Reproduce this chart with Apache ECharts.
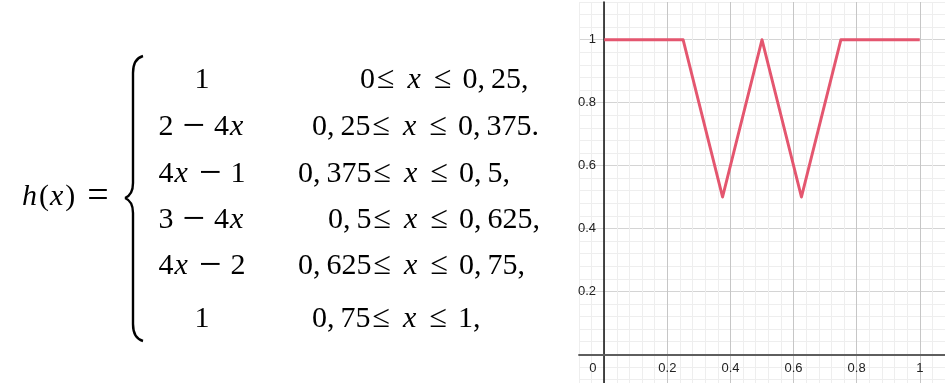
<!DOCTYPE html>
<html><head><meta charset="utf-8">
<script src="https://cdn.jsdelivr.net/npm/echarts@6/dist/echarts.min.js"></script>
<style>html,body{margin:0;padding:0;background:#fff}#c{width:945px;height:383px}</style>
</head><body><div id="c"></div>
<script>
// ---- data ----
const xValues = [0, 0.25, 0.375, 0.5, 0.625, 0.75, 1];
const hValues = [1, 1, 0.5, 1, 0.5, 1, 1];
const xTickLabels = ['0', '0.2', '0.4', '0.6', '0.8', '1'];
const yTickLabels = ['0.2', '0.4', '0.6', '0.8', '1'];
const pieceExprs = ['1', '2 − 4x', '4x − 1', '3 − 4x', '4x − 2', '1'];
const pieceLower = ['0', '0,25', '0,375', '0,5', '0,625', '0,75'];
const pieceUpper = ['0,25,', '0,375.', '0,5,', '0,625,', '0,75,', '1,'];

// ---- layout / style ----
const FAM = '"Liberation Serif"';
const F = (s, it) => (it ? 'italic ' : '') + s + 'px ' + FAM;
const rowY = [80, 127, 174, 220, 266, 319];
const condX = [360, 312, 298, 328, 298, 312];
const MINOR = '#eeeeee';

function richOf(s) {
  let out = '';
  for (const ch of s) {
    if (ch === 'x' || ch === 'h') out += '{i|' + ch + '}';
    else if (ch === '−') out += '{m|−}';
    else if (ch === '=') out += '{e|=}';
    else if (ch === '≤') out += '{L|≤}';
    else if (ch === ' ') continue;
    else if (ch === ',') out += '{c|,}';
    else out += '{n|' + ch + '}';
  }
  return out;
}
const rich = {
  n: { font: F(30), fill: '#000' },
  c: { font: F(30), fill: '#000', padding: [0, 6, 0, 0] },
  i: { font: F(30, true), fill: '#000', padding: [0, 2, 0, 1] },
  m: { font: F(40), fill: '#000', padding: [0, 9, 0, 9] },
  e: { font: F(38), fill: '#000', padding: [0, 0, 0, 12] }
};
const richCond = {
  n: rich.n, c: rich.c,
  i: { font: F(30, true), fill: '#000', padding: [0, 11, 0, 2] },
  L: { font: F(32), fill: '#000', padding: [0, 11, 0, 2] }
};
function txt(x, y, s, align, r) {
  return { type: 'text', x: x, y: y, silent: true,
    style: { text: richOf(s), rich: r || rich, align: align, verticalAlign: 'middle',
             font: F(30), fill: '#000' } };
}
const graphics = [];
graphics.push(txt(21, 197, 'h(x) =', 'left'));
const braceStyle = { fill: null, stroke: '#000', lineWidth: 2.4 };
const braceParts = [
  { type: 'bezierCurve', shape: { x1: 143, y1: 56, cpx1: 136, cpy1: 58, cpx2: 133, cpy2: 63, x2: 133, y2: 73 } },
  { type: 'line', shape: { x1: 133, y1: 73, x2: 133, y2: 183 } },
  { type: 'bezierCurve', shape: { x1: 133, y1: 183, cpx1: 133, cpy1: 191, cpx2: 130, cpy2: 196, x2: 125, y2: 198 } },
  { type: 'bezierCurve', shape: { x1: 125, y1: 198, cpx1: 130, cpy1: 200, cpx2: 133, cpy2: 205, x2: 133, y2: 213 } },
  { type: 'line', shape: { x1: 133, y1: 213, x2: 133, y2: 324 } },
  { type: 'bezierCurve', shape: { x1: 133, y1: 324, cpx1: 133, cpy1: 334, cpx2: 136, cpy2: 339, x2: 143, y2: 341 } }
];
braceParts.forEach(p => { p.silent = true; p.style = braceStyle; graphics.push(p); });
for (let r = 0; r < pieceExprs.length; r++) {
  const y = rowY[r];
  graphics.push(txt(202, y, pieceExprs[r], 'center'));
  graphics.push(txt(condX[r], y, pieceLower[r] + '≤x≤' + pieceUpper[r], 'left', richCond));
}

function isMajor(v) { return Math.abs(v / 0.2 - Math.round(v / 0.2)) < 1e-6; }

const chart = echarts.init(document.getElementById('c'), null, { renderer: 'canvas' });
chart.setOption({
  animation: false,
  grid: { left: 579, top: 2, width: 366, height: 390, containLabel: false, outerBoundsMode: 'none' },
  xAxis: {
    type: 'value', min: -0.08, max: 1.08, interval: 0.04,
    axisLine: { onZero: true, lineStyle: { color: '#5e5e5e', width: 1.8 } },
    axisTick: { show: false },
    axisLabel: {
      margin: -30.5, color: '#222', fontSize: 13, fontFamily: 'Liberation Sans',
      formatter: function (v) {
        if (!isMajor(v)) return '';
        const k = Math.round(v / 0.2);
        if (k < 0 || k > 5) return '';
        if (k === 0) return '{o|' + xTickLabels[0] + '}';
        return xTickLabels[k];
      },
      rich: { o: { fontSize: 13, fontFamily: 'Liberation Sans', color: '#222', padding: [0, 23, 0, 0] } }
    },
    splitLine: { show: true, lineStyle: { width: 1, color: [MINOR, MINOR, '#c6c6c6', MINOR, MINOR] } }
  },
  yAxis: {
    type: 'value', min: -0.12, max: 1.12, interval: 0.04,
    axisLine: { onZero: true, lineStyle: { color: '#111', width: 1.5 } },
    axisTick: { show: false },
    axisLabel: {
      margin: -17, color: '#222', fontSize: 13, fontFamily: 'Liberation Sans',
      formatter: function (v) {
        if (!isMajor(v)) return '';
        const k = Math.round(v / 0.2);
        if (k < 1 || k > 5) return '';
        return yTickLabels[k - 1];
      }
    },
    splitLine: { show: true, lineStyle: { width: 1, color: [MINOR, MINOR, MINOR, '#d4d4d4', MINOR] } }
  },
  series: [{
    type: 'line', symbol: 'none', silent: true,
    data: xValues.map((x, i) => [x, hValues[i]]),
    lineStyle: { color: '#e4566f', width: 3, join: 'round', cap: 'butt' }
  }],
  graphic: graphics
});
</script></body></html>
